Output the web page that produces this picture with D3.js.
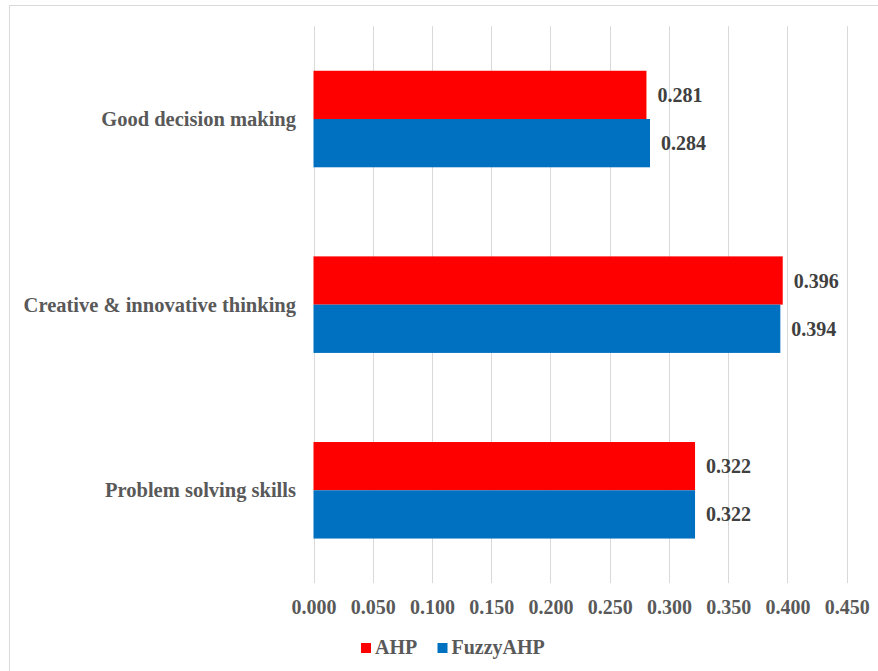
<!DOCTYPE html>
<html>
<head>
<meta charset="utf-8">
<script src="https://cdn.jsdelivr.net/npm/d3@7"></script>
<style>
  html, body { margin: 0; padding: 0; background: #fff; }
  svg { display: block; font-family: "Liberation Serif", "Times New Roman", serif; font-weight: bold; }
</style>
</head>
<body>
<svg id="chart" width="878" height="671"></svg>
<script>
const categories = ["Good decision making", "Creative & innovative thinking", "Problem solving skills"];
const seriesNames = ["AHP", "FuzzyAHP"];
const ahpValues = [0.281, 0.396, 0.322];
const fuzzyValues = [0.284, 0.394, 0.322];
const tickValues = [0, 0.05, 0.10, 0.15, 0.20, 0.25, 0.30, 0.35, 0.40, 0.45];
const colors = ["#FF0000", "#0070C0"];

const svg = d3.select("#chart");
const W = 878, H = 671;

// chart border
svg.append("rect")
  .attr("x", 9.5).attr("y", 5.5)
  .attr("width", W + 10).attr("height", H + 10)
  .attr("fill", "#fff").attr("stroke", "#d9d9d9").attr("stroke-width", 1);

const plotTop = 26.2, plotBottom = 583.1;
const x = d3.scaleLinear().domain([0, 0.45]).range([313.5, 846.7]);
const y = d3.scaleBand().domain(categories).range([plotTop, plotBottom])
  .paddingInner(0.48).paddingOuter(0.24);
const inner = d3.scaleBand().domain(seriesNames).range([0, y.bandwidth()]);

// gridlines
svg.append("g").selectAll("line").data(tickValues).join("line")
  .attr("x1", d => Math.round(x(d)) + 0.5).attr("x2", d => Math.round(x(d)) + 0.5)
  .attr("y1", plotTop).attr("y2", plotBottom)
  .attr("stroke", "#d9d9d9").attr("stroke-width", 1);

// data rows
const rows = categories.map((c, i) => ({ cat: c, vals: [ahpValues[i], fuzzyValues[i]] }));
const items = [];
rows.forEach(r => r.vals.forEach((v, j) => items.push({ cat: r.cat, series: seriesNames[j], v, j })));

svg.append("g").selectAll("rect").data(items).join("rect")
  .attr("x", x(0))
  .attr("y", d => y(d.cat) + inner(d.series))
  .attr("width", d => x(d.v) - x(0))
  .attr("height", inner.bandwidth())
  .attr("fill", d => colors[d.j]);

svg.append("g").selectAll("text").data(items).join("text")
  .attr("x", d => x(d.v) + 11)
  .attr("y", d => y(d.cat) + inner(d.series) + inner.bandwidth() / 2)
  .attr("dy", "0.35em")
  .attr("font-size", 20)
  .attr("fill", "#404040")
  .text(d => d.v.toFixed(3));

// category labels
svg.append("g").selectAll("text").data(categories).join("text")
  .attr("x", x(0) - 17.5)
  .attr("y", d => y(d) + y.bandwidth() / 2)
  .attr("dy", "0.35em")
  .attr("text-anchor", "end")
  .attr("font-size", 20.5)
  .attr("fill", "#595959")
  .text(d => d);

// x axis labels
const axis = d3.axisBottom(x).tickValues(tickValues).tickSize(0).tickPadding(16.8)
  .tickFormat(d3.format(".3f"));
const gx = svg.append("g").attr("transform", `translate(0,${plotBottom})`).call(axis);
gx.select(".domain").remove();
gx.selectAll("text")
  .attr("font-size", 20)
  .attr("font-family", "Liberation Serif, Times New Roman, serif")
  .attr("font-weight", "bold")
  .attr("fill", "#595959");

// legend
const legendX = [361, 437.5];
const lg = svg.append("g").selectAll("g").data(seriesNames).join("g")
  .attr("transform", (d, i) => `translate(${legendX[i]},643)`);
lg.append("rect").attr("width", 10).attr("height", 10).attr("fill", (d, i) => colors[i]);
lg.append("text").attr("x", 14).attr("y", 11)
  .attr("font-size", 20).attr("fill", "#595959").text(d => d);
</script>
</body>
</html>
